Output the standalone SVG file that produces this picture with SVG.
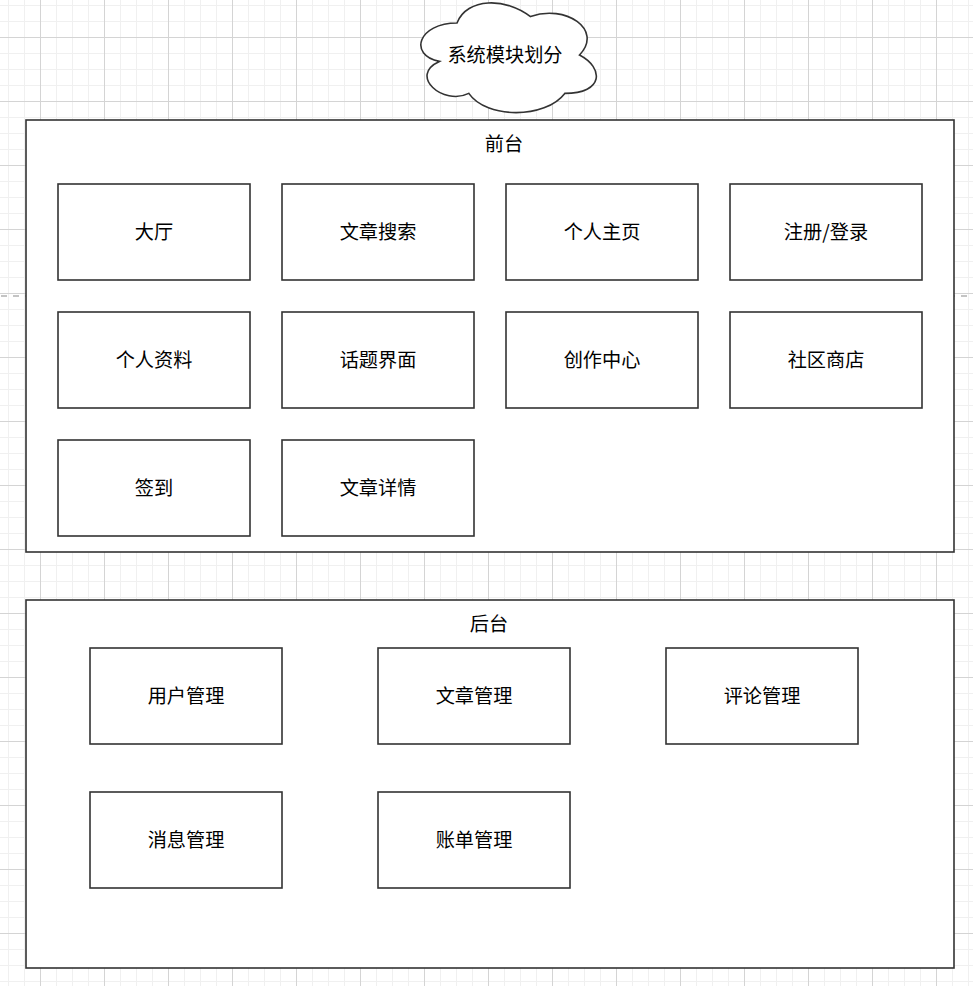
<svg xmlns="http://www.w3.org/2000/svg" width="973" height="986" viewBox="0 0 973 986">
  <defs>
    <pattern id="minor" x="8" y="5" width="16" height="16" patternUnits="userSpaceOnUse">
      <path d="M0.5 0V16M0 0.5H16" fill="none" stroke="#f0f0f0" stroke-width="1"/>
    </pattern>
    <pattern id="major" x="40" y="37" width="64" height="64" patternUnits="userSpaceOnUse">
      <path d="M0.5 0V64M0 0.5H64" fill="none" stroke="#d4d4d4" stroke-width="1"/>
    </pattern>
    <style>
      .box { fill: #ffffff; stroke: #333333; stroke-width: 1.6; }
      .lbl { font-family: "Noto Sans CJK SC", "Noto Sans", sans-serif; font-size: 19.2px; fill: #000000; text-anchor: middle; }
    </style>
  </defs>
  <rect width="973" height="986" fill="#ffffff"/>
  <rect width="973" height="986" fill="url(#minor)"/>
  <rect width="973" height="986" fill="url(#major)"/>
  <line x1="1" y1="296" x2="973" y2="296" stroke="#c4c4c4" stroke-width="2" stroke-dasharray="6 6"/>

  <g id="cloud">
    <path class="box" d="M457 23 C418.2 23 408 55 439.4 61.4 C408 75.5 443.3 106.2 468.8 93.4 C486.4 119 545.2 119 564.8 93.4 C604 93.4 604 67.8 579.5 55 C604 29.4 564.8 3.8 530.5 16.6 C506 -2.6 466.8 -2.6 457 23 Z"/>
    <text class="lbl" x="505" y="62">系统模块划分</text>
  </g>

  <g id="frontend">
    <rect class="box" x="26" y="120" width="928" height="432"/>
    <text class="lbl" x="504" y="151">前台</text>
  </g>
  <g id="backend">
    <rect class="box" x="26" y="600" width="928" height="368"/>
    <text class="lbl" x="489" y="631">后台</text>
  </g>

  <g id="n-dating"><rect class="box" x="58" y="184" width="192" height="96"/><text class="lbl" x="154" y="239">大厅</text></g>
  <g id="n-search"><rect class="box" x="282" y="184" width="192" height="96"/><text class="lbl" x="378" y="239">文章搜索</text></g>
  <g id="n-home"><rect class="box" x="506" y="184" width="192" height="96"/><text class="lbl" x="602" y="239">个人主页</text></g>
  <g id="n-login"><rect class="box" x="730" y="184" width="192" height="96"/><text class="lbl" x="826" y="239">注册/登录</text></g>

  <g id="n-profile"><rect class="box" x="58" y="312" width="192" height="96"/><text class="lbl" x="154" y="367">个人资料</text></g>
  <g id="n-topic"><rect class="box" x="282" y="312" width="192" height="96"/><text class="lbl" x="378" y="367">话题界面</text></g>
  <g id="n-create"><rect class="box" x="506" y="312" width="192" height="96"/><text class="lbl" x="602" y="367">创作中心</text></g>
  <g id="n-shop"><rect class="box" x="730" y="312" width="192" height="96"/><text class="lbl" x="826" y="367">社区商店</text></g>

  <g id="n-checkin"><rect class="box" x="58" y="440" width="192" height="96"/><text class="lbl" x="154" y="495">签到</text></g>
  <g id="n-detail"><rect class="box" x="282" y="440" width="192" height="96"/><text class="lbl" x="378" y="495">文章详情</text></g>

  <g id="b-user"><rect class="box" x="90" y="648" width="192" height="96"/><text class="lbl" x="186" y="703">用户管理</text></g>
  <g id="b-article"><rect class="box" x="378" y="648" width="192" height="96"/><text class="lbl" x="474" y="703">文章管理</text></g>
  <g id="b-comment"><rect class="box" x="666" y="648" width="192" height="96"/><text class="lbl" x="762" y="703">评论管理</text></g>
  <g id="b-message"><rect class="box" x="90" y="792" width="192" height="96"/><text class="lbl" x="186" y="847">消息管理</text></g>
  <g id="b-bill"><rect class="box" x="378" y="792" width="192" height="96"/><text class="lbl" x="474" y="847">账单管理</text></g>

  <g id="connectors"></g>
</svg>
